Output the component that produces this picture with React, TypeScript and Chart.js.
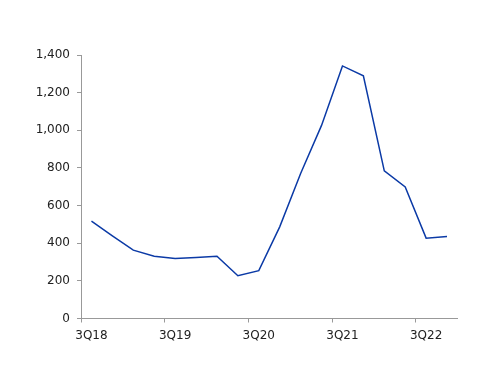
import React, { useEffect, useRef } from "react";
import { Chart, registerables } from "chart.js";

Chart.register(...registerables);

const categories = [
  "3Q18", "4Q18", "1Q19", "2Q19", "3Q19", "4Q19", "1Q20", "2Q20", "3Q20",
  "4Q20", "1Q21", "2Q21", "3Q21", "4Q21", "1Q22", "2Q22", "3Q22", "4Q22",
];
const values = [
  517, 439, 363, 331, 319, 324, 331, 227, 254,
  487, 770, 1026, 1342, 1289, 784, 699, 427, 436,
];
const yTicks = [0, 200, 400, 600, 800, 1000, 1200, 1400];

export default function App() {
  const ref = useRef<HTMLCanvasElement | null>(null);
  useEffect(() => {
    if (!ref.current) return;
    const font = { family: "'DejaVu Sans', Verdana, sans-serif", size: 12 };
    const chart = new Chart(ref.current, {
      type: "line",
      data: {
        labels: categories,
        datasets: [
          {
            data: values,
            borderColor: "#0b3aa6",
            borderWidth: 1.5,
            pointRadius: 0,
            tension: 0,
            fill: false,
          },
        ],
      },
      options: {
        animation: false,
        responsive: false,
        maintainAspectRatio: false,
        layout: { padding: { top: 55, right: 42.5, bottom: 0, left: 0 } },
        plugins: { legend: { display: false }, tooltip: { enabled: false } },
        scales: {
          x: {
            type: "category",
            offset: true,
            grid: {
              offset: true,
              drawOnChartArea: false,
              drawTicks: true,
              tickLength: 4,
              color: (ctx: any) => (ctx.index % 4 === 0 ? "#999999" : "rgba(0,0,0,0)"),
            },
            border: { display: true, color: "#999999", width: 1 },
            ticks: {
              autoSkip: false,
              maxRotation: 0,
              minRotation: 0,
              padding: 6,
              color: "#222222",
              font,
              callback: (_v: any, i: number) => (i % 4 === 0 ? categories[i] : ""),
            },
            afterFit: (scale: any) => {
              scale.height = 67.5;
            },
          },
          y: {
            min: 0,
            max: 1400,
            afterBuildTicks: (scale: any) => {
              scale.ticks = yTicks.map((v) => ({ value: v }));
            },
            grid: {
              drawOnChartArea: false,
              drawTicks: true,
              tickLength: 4,
              color: "#999999",
            },
            border: { display: true, color: "#999999", width: 1 },
            ticks: {
              padding: 7,
              color: "#222222",
              font,
              callback: (v: any) => Number(v).toLocaleString("en-US"),
            },
            afterFit: (scale: any) => {
              scale.width = 81;
            },
          },
        },
      },
    });
    return () => chart.destroy();
  }, []);
  return (
    <div style={{ position: "fixed", left: 0, top: 0, width: 500, height: 386, background: "#fff" }}>
      <canvas ref={ref} width={500} height={386} style={{ width: 500, height: 386, display: "block" }} />
    </div>
  );
}
